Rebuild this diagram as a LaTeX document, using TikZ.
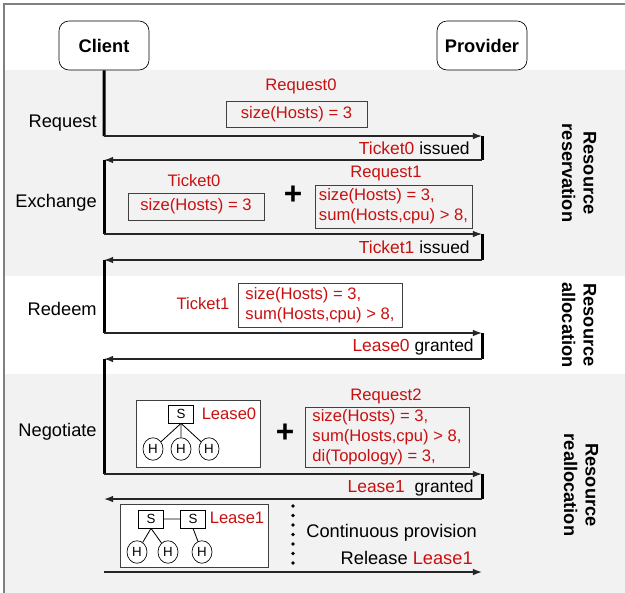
\documentclass[tikz,border=0pt]{standalone}
\usepackage{fontspec}
\setmainfont{Liberation Sans}
\usepackage{tikz}
\usetikzlibrary{arrows.meta,shapes.geometric}
\definecolor{tkred}{RGB}{200,16,16}
\definecolor{bandgray}{RGB}{242,242,242}

\begin{document}
\begin{tikzpicture}[scale=0.6,
  party/.style={draw,rounded corners=6bp,fill=white,minimum width=54bp,minimum height=29.4bp,font=\fontsize{11}{13}\selectfont\bfseries},
  act/.style={anchor=east,inner sep=0pt,font=\fontsize{11}{13}\selectfont},
  ack/.style={anchor=east,inner sep=0pt,font=\fontsize{10.5}{12}\selectfont},
  tkt/.style={text=tkred,inner sep=0pt,font=\fontsize{10}{12}\selectfont},
  spec/.style={draw=black!75,text=tkred,align=left,inner xsep=2bp,inner ysep=1.5bp,font=\fontsize{10}{12}\selectfont},
  lease/.style={draw=black!75,fill=white},
  sw/.style={draw,fill=white,minimum width=15bp,minimum height=10.8bp,inner sep=0pt,font=\fontsize{8}{9}\selectfont},
  host/.style={draw,ellipse,fill=white,minimum width=12bp,minimum height=13.5bp,inner sep=0pt,font=\fontsize{8}{9}\selectfont},
  msg/.style={-{Latex[length=5.5bp,width=4bp]},line width=0.8bp,black!85},
  life/.style={line width=1.8bp},
  phase/.style={rotate=-90,align=center,font=\fontsize{11}{13}\selectfont\bfseries}]
\useasboundingbox (0bp,0bp) rectangle (625bp,-593bp);
\fill[bandgray] (5bp,-70bp) rectangle (625bp,-276bp);
\fill[bandgray] (5bp,-374bp) rectangle (625bp,-593bp);
\draw[black!50,line width=1.2bp] (4bp,-593bp) -- (4bp,-4bp) -- (625bp,-4bp);

\node (cli) at (104bp,-45.5bp)[party] {Client};
\node (prov) at (482bp,-45.5bp)[party] {Provider};

\coordinate (c0) at (104bp,-136bp);
\coordinate (p0) at (482bp,-136bp);
\coordinate (p1) at (482bp,-160bp);
\coordinate (c1) at (104bp,-160bp);
\coordinate (c2) at (104bp,-234bp);
\coordinate (p2) at (482bp,-234bp);
\coordinate (p3) at (482bp,-260bp);
\coordinate (c3) at (104bp,-260bp);
\coordinate (c4) at (104bp,-333bp);
\coordinate (p4) at (482bp,-333bp);
\coordinate (p5) at (482bp,-359bp);
\coordinate (c5) at (104bp,-359bp);
\coordinate (c6) at (104bp,-474bp);
\coordinate (p6) at (482bp,-474bp);
\coordinate (p7) at (482bp,-499bp);
\coordinate (c7) at (104bp,-499bp);
\coordinate (c8) at (104bp,-572bp);
\coordinate (p8) at (482bp,-572bp);

\node (request) at (97bp,-123bp)[act] {Request};
\node (exchange) at (97bp,-203bp)[act] {Exchange};
\node (redeem) at (97bp,-309bp)[act] {Redeem};
\node (negotiate) at (97bp,-432bp)[act] {Negotiate};

\node (lreq0) at (301bp,-86bp)[tkt] {Request0};
\node (req0) at (296.5bp,-114bp)[spec,minimum width=84.6bp,minimum height=15.6bp] {size(Hosts) = 3};
\node (ack0) at (470bp,-148bp)[ack] {\textcolor{tkred}{Ticket0} issued};

\node (ltk0) at (194bp,-181bp)[tkt] {Ticket0};
\node (tk0) at (196bp,-206.5bp)[spec,minimum width=81.6bp,minimum height=16.2bp] {size(Hosts) = 3};
\node (plus1) at (293bp,-195bp)[inner sep=0pt,font=\fontsize{19}{19}\selectfont\bfseries] {+};
\node (lreq1) at (386bp,-174bp)[tkt] {Request1};
\node (req1) at (393.5bp,-206.5bp)[spec,minimum width=94.2bp,minimum height=25.8bp] {size(Hosts) = 3,\\sum(Hosts,cpu) > 8,};
\node (ack1) at (470bp,-247bp)[ack] {\textcolor{tkred}{Ticket1} issued};

\node (ltk1) at (203bp,-304bp)[tkt] {Ticket1};
\node (tk1) at (320bp,-305bp)[spec,minimum width=98.4bp,minimum height=26.4bp] {size(Hosts) = 3,\\sum(Hosts,cpu) > 8,};
\node (ack2) at (474bp,-347bp)[ack] {\textcolor{tkred}{Lease0} granted};

\node (l0box) at (198bp,-433.5bp)[lease,minimum width=74.4bp,minimum height=40.2bp] {};
\node (s0) at (181bp,-414bp)[sw] {S};
\node (ls0) at (229bp,-414bp)[tkt] {Lease0};
\node (h01) at (153bp,-449bp)[host] {H};
\node (h02) at (181bp,-449bp)[host] {H};
\node (h03) at (209bp,-449bp)[host] {H};
\draw[line width=0.5bp] (s0.south) -- (h01);
\draw[line width=0.5bp] (s0.south) -- (h02);
\draw[line width=0.5bp] (s0.south) -- (h03);
\node (plus2) at (285bp,-433bp)[inner sep=0pt,font=\fontsize{19}{19}\selectfont\bfseries] {+};
\node (lreq2) at (386bp,-396bp)[tkt] {Request2};
\node (req2) at (387bp,-437bp)[spec,minimum width=98.4bp,minimum height=36bp] {size(Hosts) = 3,\\sum(Hosts,cpu) > 8,\\di(Topology) = 3,};
\node (ack3) at (474bp,-488bp)[ack] {\textcolor{tkred}{Lease1}\ \ granted};

\node (l1box) at (194bp,-535.5bp)[lease,minimum width=88.8bp,minimum height=37.8bp] {};
\node (s1) at (151bp,-519bp)[sw] {S};
\node (s2) at (193bp,-519bp)[sw] {S};
\node (ls1) at (237bp,-518bp)[tkt] {Lease1};
\node (h11) at (137bp,-552bp)[host] {H};
\node (h12) at (168bp,-552bp)[host] {H};
\node (h13) at (202bp,-552bp)[host] {H};
\draw[line width=0.5bp] (s1) -- (s2);
\draw[line width=0.5bp] (s1.south) -- (h11);
\draw[line width=0.5bp] (s1.south) -- (h12);
\draw[line width=0.5bp] (s2.south) -- (h13);
\foreach \y in {506,515.5,525,534.5,544,553.5,563}
  \fill (293bp,-\y bp) circle (1.8bp);
\node (cont) at (306bp,-533bp)[anchor=west,inner sep=0pt,font=\fontsize{11}{13}\selectfont] {Continuous provision};
\node (rel) at (473bp,-558bp)[anchor=east,inner sep=0pt,font=\fontsize{11}{13}\selectfont] {Release \textcolor{tkred}{Lease1}};

\draw[life] (cli) -- (c0);
\draw[msg] (c0) -- (p0);
\draw[life] (p0) -- (p1);
\draw[msg] (p1) -- (c1);
\draw[life] (c1) -- (c2);
\draw[msg] (c2) -- (p2);
\draw[life] (p2) -- (p3);
\draw[msg] (p3) -- (c3);
\draw[life] (c3) -- (c4);
\draw[msg] (c4) -- (p4);
\draw[life] (p4) -- (p5);
\draw[msg] (p5) -- (c5);
\draw[life] (c5) -- (c6);
\draw[msg] (c6) -- (p6);
\draw[life] (p6) -- (p7);
\draw[msg] (p7) -- (c7);
\draw[msg] (c8) -- (p8);

\node (ph1) at (579bp,-173bp)[phase] {Resource\\reservation};
\node (ph2) at (579bp,-325bp)[phase] {Resource\\allocation};
\node (ph3) at (581bp,-485bp)[phase] {Resource\\reallocation};
\end{tikzpicture}
\end{document}
